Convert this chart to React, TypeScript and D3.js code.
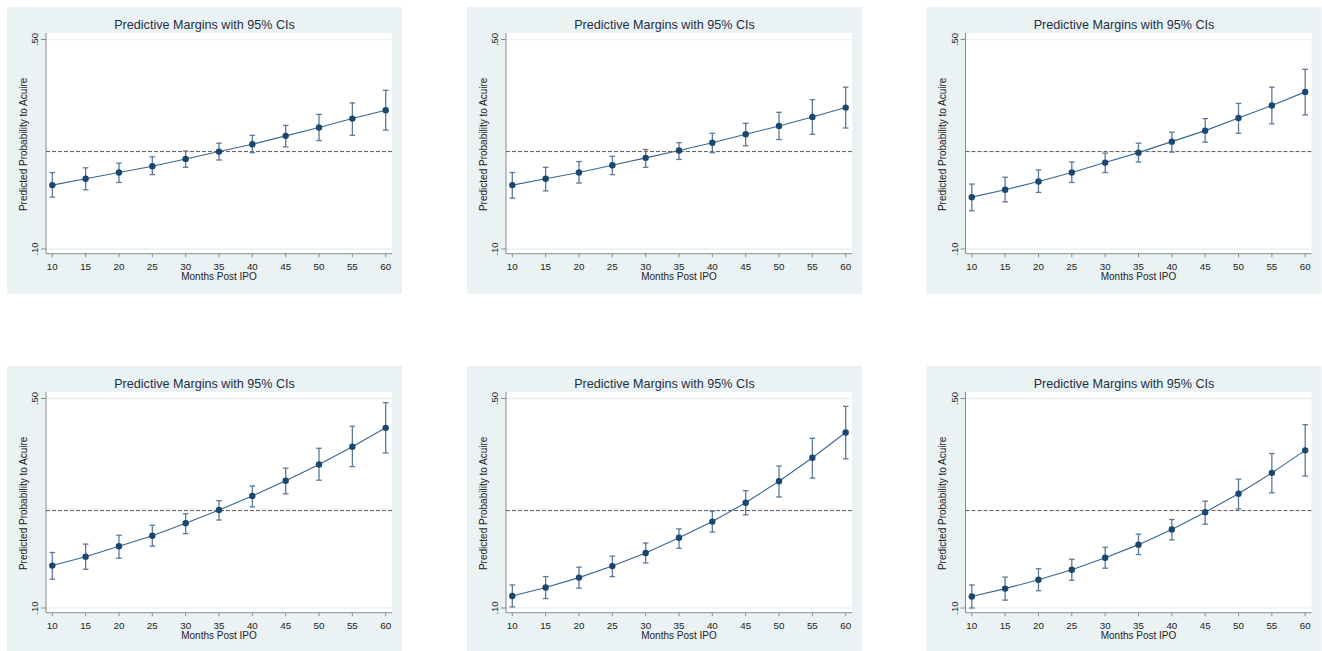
import React from 'react';
import * as d3 from 'd3';

// months post IPO (x) and the y ticks that Stata labels
const months = [10, 15, 20, 25, 30, 35, 40, 45, 50, 55, 60];
const yTicks = [0.1, 0.5];
const yTickLabels = ['.10', '.50'];
const baseline = 0.286;

// predicted probabilities and 95% CI, one set per panel
const margins1 = [0.222, 0.234, 0.246, 0.258, 0.272, 0.286, 0.300, 0.316, 0.332, 0.349, 0.365];
const lower1 = [0.199, 0.213, 0.227, 0.242, 0.256, 0.270, 0.284, 0.295, 0.307, 0.317, 0.327];
const upper1 = [0.246, 0.255, 0.264, 0.276, 0.287, 0.302, 0.317, 0.336, 0.357, 0.379, 0.403];

const margins2 = [0.222, 0.234, 0.246, 0.260, 0.274, 0.288, 0.303, 0.319, 0.335, 0.352, 0.370];
const lower2 = [0.197, 0.211, 0.226, 0.242, 0.256, 0.271, 0.284, 0.297, 0.309, 0.319, 0.331];
const upper2 = [0.246, 0.256, 0.267, 0.277, 0.290, 0.303, 0.321, 0.340, 0.361, 0.385, 0.409];

const margins3 = [0.199, 0.213, 0.229, 0.246, 0.265, 0.284, 0.305, 0.326, 0.350, 0.374, 0.400];
const lower3 = [0.173, 0.190, 0.208, 0.227, 0.246, 0.266, 0.285, 0.304, 0.321, 0.339, 0.356];
const upper3 = [0.224, 0.237, 0.251, 0.266, 0.283, 0.302, 0.323, 0.349, 0.378, 0.409, 0.443];

const margins4 = [0.181, 0.198, 0.218, 0.238, 0.262, 0.287, 0.314, 0.343, 0.374, 0.408, 0.444];
const lower4 = [0.155, 0.174, 0.195, 0.218, 0.242, 0.268, 0.293, 0.318, 0.344, 0.370, 0.396];
const upper4 = [0.206, 0.222, 0.239, 0.258, 0.280, 0.305, 0.333, 0.367, 0.405, 0.447, 0.492];

const margins5 = [0.123, 0.139, 0.158, 0.180, 0.205, 0.234, 0.265, 0.301, 0.342, 0.387, 0.435];
const lower5 = [0.102, 0.118, 0.138, 0.160, 0.186, 0.214, 0.245, 0.278, 0.312, 0.348, 0.385];
const upper5 = [0.144, 0.160, 0.178, 0.199, 0.224, 0.251, 0.285, 0.324, 0.371, 0.424, 0.485];

const margins6 = [0.122, 0.137, 0.154, 0.173, 0.196, 0.221, 0.250, 0.283, 0.318, 0.358, 0.401];
const lower6 = [0.100, 0.115, 0.133, 0.153, 0.176, 0.202, 0.230, 0.260, 0.289, 0.320, 0.352];
const upper6 = [0.144, 0.159, 0.175, 0.193, 0.216, 0.241, 0.269, 0.304, 0.346, 0.395, 0.450];

const title = 'Predictive Margins with 95% CIs';
const xTitle = 'Months Post IPO';
const yTitle = 'Predicted Probability to Acuire';

const panels = [
  { x: 7, y: 7, est: margins1, lo: lower1, hi: upper1 },
  { x: 467, y: 7, est: margins2, lo: lower2, hi: upper2 },
  { x: 926.5, y: 7, est: margins3, lo: lower3, hi: upper3 },
  { x: 7, y: 366, est: margins4, lo: lower4, hi: upper4 },
  { x: 467, y: 366, est: margins5, lo: lower5, hi: upper5 },
  { x: 926.5, y: 366, est: margins6, lo: lower6, hi: upper6 },
];

const W = 395;
const H = 287;
const plot = { left: 39, top: 26, right: 385, bottom: 246.7 };
const font = '"Liberation Sans", Arial, sans-serif';
const navy = '#1a476f';

function Panel({ x, y, est, lo, hi }) {
  const xScale = d3.scaleLinear().domain([10, 60]).range([45.3, 378.7]);
  const yScale = d3.scaleLinear().domain([0.1, 0.5]).range([242, 32.5]);
  const line = d3
    .line<number>()
    .x((d, i) => xScale(months[i]))
    .y(d => yScale(d));

  return (
    <g transform={`translate(${x},${y})`}>
      <rect width={W} height={H} fill="#eaf2f3" />
      <rect
        x={plot.left}
        y={plot.top}
        width={plot.right - plot.left}
        height={plot.bottom - plot.top}
        fill="#ffffff"
      />
      {/* grid */}
      {yTicks.map(t => (
        <line
          key={'g' + t}
          x1={plot.left}
          x2={plot.right}
          y1={yScale(t)}
          y2={yScale(t)}
          stroke="#eaf2f3"
          strokeWidth={1.5}
        />
      ))}
      {/* axes */}
      <line x1={plot.left} x2={plot.left} y1={plot.top} y2={plot.bottom} stroke="#8a8a8a" />
      <line x1={plot.left} x2={plot.right} y1={plot.bottom} y2={plot.bottom} stroke="#8a8a8a" />
      {yTicks.map((t, i) => (
        <g key={'y' + t}>
          <line x1={plot.left - 5} x2={plot.left} y1={yScale(t)} y2={yScale(t)} stroke="#8a8a8a" />
          <text
            transform={`translate(${plot.left - 8},${yScale(t)}) rotate(-90)`}
            textAnchor="middle"
            fontSize={9.5}
            fontFamily={font}
            fill="#222"
          >
            {yTickLabels[i]}
          </text>
        </g>
      ))}
      {months.map(m => (
        <g key={'x' + m}>
          <line x1={xScale(m)} x2={xScale(m)} y1={plot.bottom} y2={plot.bottom + 3.5} stroke="#8a8a8a" />
          <text x={xScale(m)} y={263} textAnchor="middle" fontSize={9.8} fontFamily={font} fill="#222">
            {m}
          </text>
        </g>
      ))}
      <text x={W / 2} y={21.7} textAnchor="middle" fontSize={12.6} fontFamily={font} fill="#1e2f45">
        {title}
      </text>
      <text x={(45.3 + 378.7) / 2} y={272.5} textAnchor="middle" fontSize={10} fontFamily={font} fill="#222">
        {xTitle}
      </text>
      <text
        transform={`translate(19.5,${(plot.top + plot.bottom) / 2 + 1}) rotate(-90)`}
        textAnchor="middle"
        fontSize={10}
        fontFamily={font}
        fill="#222"
      >
        {yTitle}
      </text>
      {/* reference line */}
      <line
        x1={plot.left}
        x2={plot.right}
        y1={yScale(baseline)}
        y2={yScale(baseline)}
        stroke="#5a5a5a"
        strokeWidth={1}
        strokeDasharray="4,2"
      />
      {/* CIs */}
      {months.map((m, i) => (
        <g key={'ci' + m} stroke="#5b7a99" strokeWidth={1.3}>
          <line x1={xScale(m)} x2={xScale(m)} y1={yScale(lo[i])} y2={yScale(hi[i])} />
          <line x1={xScale(m) - 2.8} x2={xScale(m) + 2.8} y1={yScale(lo[i])} y2={yScale(lo[i])} />
          <line x1={xScale(m) - 2.8} x2={xScale(m) + 2.8} y1={yScale(hi[i])} y2={yScale(hi[i])} />
        </g>
      ))}
      <path d={line(est) || ''} fill="none" stroke="#3a6690" strokeWidth={1.1} />
      {est.map((v, i) => (
        <circle key={'p' + i} cx={xScale(months[i])} cy={yScale(v)} r={3.2} fill={navy} />
      ))}
    </g>
  );
}

export default function App() {
  return (
    <svg
      width={1322}
      height={651}
      style={{ position: 'absolute', left: 0, top: 0, background: '#ffffff' }}
    >
      {panels.map((p, i) => (
        <Panel key={i} {...p} />
      ))}
    </svg>
  );
}
